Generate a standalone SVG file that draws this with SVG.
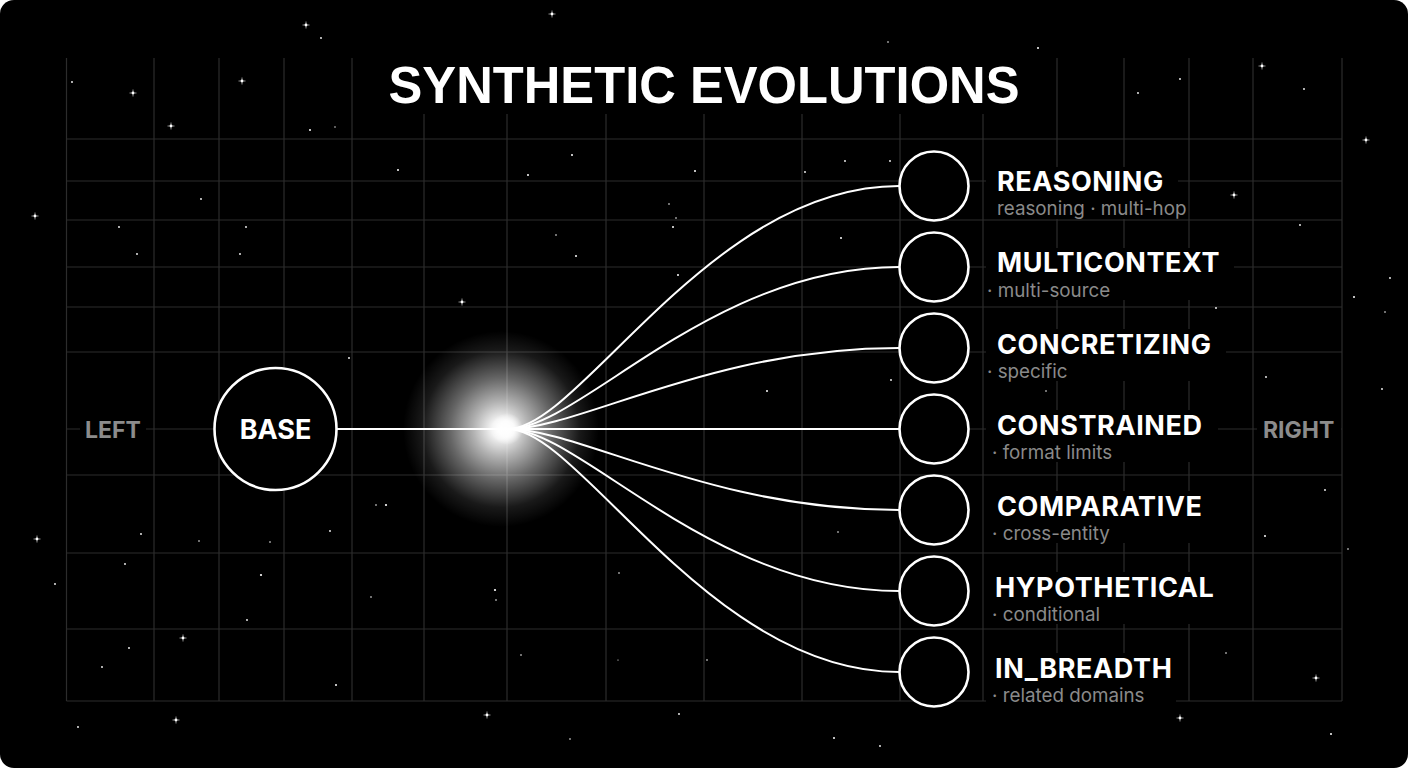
<svg xmlns="http://www.w3.org/2000/svg" xmlns:xlink="http://www.w3.org/1999/xlink" width="1408" height="768" viewBox="0 0 1408 768">
<style>
.grid line{stroke:#2c2c2c;stroke-width:1.2}
.conn{fill:none;stroke:#fff;stroke-width:2}
.node{fill:#000;stroke:#fff;stroke-width:2.6}
.ttl{font-family:Inter,"Liberation Sans",sans-serif;font-weight:700;font-size:27px;fill:#fff;letter-spacing:0.6px}
.sub{font-family:Inter,"Liberation Sans",sans-serif;font-weight:400;font-size:18.8px;fill:#8a8a8a}
.side{font-family:Inter,"Liberation Sans",sans-serif;font-weight:700;font-size:23px;fill:#8c8c8c}
.bg{fill:#000}
.dot{fill:#fff}
</style>
<defs>
<radialGradient id="glow" cx="0.5" cy="0.5" r="0.5">
<stop offset="0" stop-color="#fff" stop-opacity="1"/>
<stop offset="0.1" stop-color="#fff" stop-opacity="0.95"/>
<stop offset="0.28" stop-color="#fff" stop-opacity="0.7"/>
<stop offset="0.52" stop-color="#fff" stop-opacity="0.4"/>
<stop offset="0.8" stop-color="#fff" stop-opacity="0.1"/>
<stop offset="1" stop-color="#fff" stop-opacity="0"/>
</radialGradient>
<radialGradient id="core" cx="0.5" cy="0.5" r="0.5">
<stop offset="0" stop-color="#fff" stop-opacity="1"/>
<stop offset="0.5" stop-color="#fff" stop-opacity="0.8"/>
<stop offset="1" stop-color="#fff" stop-opacity="0"/>
</radialGradient>
<g id="sp">
<circle r="1.4" fill="#fff"/>
<path d="M-3.5 0H3.5M0 -3.5V3.5" stroke="#fff" stroke-width="0.7" opacity="0.8"/>
</g>
</defs>
<rect width="1408" height="768" fill="#fff"/>
<rect width="1408" height="768" rx="14" fill="#000"/>

<g id="grid" class="grid">
<line x1="66.5" y1="58" x2="66.5" y2="701"/>
<line x1="154" y1="58" x2="154" y2="701"/>
<line x1="219" y1="58" x2="219" y2="701"/>
<line x1="284" y1="58" x2="284" y2="701"/>
<line x1="352" y1="58" x2="352" y2="701"/>
<line x1="424" y1="114" x2="424" y2="701"/>
<line x1="507" y1="114" x2="507" y2="701"/>
<line x1="606" y1="114" x2="606" y2="701"/>
<line x1="704" y1="114" x2="704" y2="701"/>
<line x1="802" y1="114" x2="802" y2="701"/>
<line x1="900" y1="114" x2="900" y2="701"/>
<line x1="983" y1="114" x2="983" y2="701"/>
<line x1="1057" y1="58" x2="1057" y2="701"/>
<line x1="1124" y1="58" x2="1124" y2="701"/>
<line x1="1189" y1="58" x2="1189" y2="701"/>
<line x1="1253" y1="58" x2="1253" y2="701"/>
<line x1="1342" y1="58" x2="1342" y2="701"/>
<line x1="66.5" y1="139" x2="1342" y2="139"/>
<line x1="66.5" y1="181" x2="1342" y2="181"/>
<line x1="66.5" y1="220" x2="1342" y2="220"/>
<line x1="66.5" y1="267" x2="1342" y2="267"/>
<line x1="66.5" y1="307" x2="1342" y2="307"/>
<line x1="66.5" y1="352" x2="1342" y2="352"/>
<line x1="66.5" y1="429" x2="1342" y2="429"/>
<line x1="66.5" y1="475" x2="1342" y2="475"/>
<line x1="66.5" y1="553" x2="1342" y2="553"/>
<line x1="66.5" y1="629" x2="1342" y2="629"/>
<line x1="66.5" y1="701" x2="1342" y2="701"/>
</g>

<g id="stars">
<use xlink:href="#sp" x="306" y="25"/>
<use xlink:href="#sp" x="552" y="14"/>
<use xlink:href="#sp" x="133" y="93"/>
<use xlink:href="#sp" x="242" y="81"/>
<use xlink:href="#sp" x="171" y="126"/>
<use xlink:href="#sp" x="35" y="216"/>
<use xlink:href="#sp" x="37" y="539"/>
<use xlink:href="#sp" x="183" y="638"/>
<use xlink:href="#sp" x="176" y="720"/>
<use xlink:href="#sp" x="487" y="715"/>
<use xlink:href="#sp" x="1262" y="66"/>
<use xlink:href="#sp" x="1366" y="140"/>
<use xlink:href="#sp" x="1234" y="195"/>
<use xlink:href="#sp" x="1316" y="678"/>
<use xlink:href="#sp" x="1180" y="718"/>
<use xlink:href="#sp" x="462" y="302"/>
<g class="dot">
<circle cx="321" cy="38" r="0.9"/><circle cx="72" cy="82" r="0.9"/><circle cx="310" cy="130" r="1"/><circle cx="335" cy="127" r="0.7"/>
<circle cx="398" cy="170" r="1"/><circle cx="201" cy="199" r="0.9"/><circle cx="119" cy="227" r="0.9"/><circle cx="246" cy="227" r="0.9"/>
<circle cx="137" cy="254" r="0.9"/><circle cx="240" cy="254" r="0.9"/>
<circle cx="572" cy="155" r="1"/><circle cx="528" cy="175" r="1"/><circle cx="695" cy="171" r="1"/><circle cx="669" cy="204" r="0.8"/>
<circle cx="676" cy="218" r="0.8"/><circle cx="673" cy="227" r="1"/><circle cx="556" cy="235" r="0.8"/><circle cx="576" cy="256" r="1"/>
<circle cx="678" cy="275" r="1"/><circle cx="805" cy="172" r="0.9"/><circle cx="845" cy="161" r="0.9"/><circle cx="841" cy="238" r="1"/>
<circle cx="890" cy="161" r="0.9"/><circle cx="767" cy="391" r="1"/><circle cx="891" cy="380" r="0.9"/><circle cx="888" cy="42" r="0.8"/>
<circle cx="495" cy="590" r="1.1"/><circle cx="619" cy="573" r="0.8"/><circle cx="521" cy="655" r="0.8"/><circle cx="707" cy="660" r="0.8"/>
<circle cx="618" cy="660" r="0.6"/><circle cx="679" cy="714" r="0.9"/><circle cx="570" cy="739" r="0.8"/><circle cx="834" cy="738" r="1"/>
<circle cx="880" cy="746" r="0.9"/><circle cx="838" cy="532" r="0.8"/><circle cx="496" cy="600" r="0.8"/>
<circle cx="141" cy="534" r="0.9"/><circle cx="55" cy="584" r="0.9"/><circle cx="125" cy="564" r="0.9"/><circle cx="199" cy="541" r="0.8"/>
<circle cx="270" cy="542" r="0.8"/><circle cx="261" cy="575" r="1.1"/><circle cx="247" cy="620" r="0.9"/><circle cx="330" cy="531" r="0.9"/>
<circle cx="386" cy="505" r="1.1"/><circle cx="371" cy="597" r="0.8"/><circle cx="129" cy="648" r="0.9"/><circle cx="102" cy="667" r="0.9"/>
<circle cx="336" cy="685" r="1"/><circle cx="78" cy="727" r="0.9"/><circle cx="349" cy="358" r="0.9"/><circle cx="376" cy="505" r="0.8"/>
<circle cx="1038" cy="48" r="1"/><circle cx="1180" cy="79" r="0.9"/><circle cx="1138" cy="93" r="0.9"/><circle cx="1304" cy="89" r="0.9"/>
<circle cx="1300" cy="225" r="0.9"/><circle cx="1390" cy="278" r="0.9"/><circle cx="1354" cy="297" r="1"/><circle cx="1216" cy="308" r="0.9"/>
<circle cx="1385" cy="312" r="0.8"/><circle cx="1266" cy="377" r="0.9"/><circle cx="1382" cy="389" r="0.9"/><circle cx="1325" cy="490" r="0.9"/>
<circle cx="1265" cy="536" r="1"/><circle cx="1348" cy="549" r="0.8"/><circle cx="1226" cy="653" r="0.8"/><circle cx="1331" cy="734" r="1"/>
<circle cx="1046" cy="391" r="0.8"/><circle cx="1150" cy="380" r="0.9"/>
</g>
</g>

<g id="glow-burst">
<circle cx="501" cy="429" r="98" fill="url(#glow)"/>
</g>

<g id="connectors">
<path class="conn" d="M336 429 L899 429"/>
<path class="conn" d="M508 429 C580 429 710 186 899 186"/>
<path class="conn" d="M508 429 C580 429 710 267 899 267"/>
<path class="conn" d="M508 429 C580 429 710 348 899 348"/>
<path class="conn" d="M508 429 C580 429 710 510 899 510"/>
<path class="conn" d="M508 429 C580 429 710 591 899 591"/>
<path class="conn" d="M508 429 C580 429 710 672 899 672"/>
</g>
<circle cx="507" cy="429" r="16" fill="url(#core)"/>

<g id="title">
<text x="704" y="103" text-anchor="middle" font-family="'Liberation Sans',Arial,sans-serif" font-weight="700" font-size="52" fill="#fff" textLength="631" lengthAdjust="spacingAndGlyphs">SYNTHETIC EVOLUTIONS</text>
</g>

<g id="label-left">
<rect class="bg" x="80" y="416" width="66" height="26"/>
<text class="side" x="85" y="438">LEFT</text>
</g>
<g id="label-right">
<rect class="bg" x="1257" y="416" width="84" height="26"/>
<text class="side" x="1263" y="438">RIGHT</text>
</g>

<g id="node-base">
<circle class="node" cx="275.5" cy="429" r="61"/>
<text x="275.5" y="438.5" text-anchor="middle" font-family="Inter,'Liberation Sans',sans-serif" font-weight="700" font-size="27" fill="#fff">BASE</text>
</g>

<g id="node-reasoning">
<circle class="node" cx="934" cy="186" r="34.5"/>
<rect class="bg" x="986" y="167" width="192" height="52"/>
<text class="ttl" x="997" y="191">REASONING</text>
<text class="sub" x="997" y="214.5">reasoning · multi-hop</text>
</g>
<g id="node-multicontext">
<circle class="node" cx="934" cy="267" r="34.5"/>
<rect class="bg" x="986" y="248" width="248" height="52"/>
<text class="ttl" x="997" y="272">MULTICONTEXT</text>
<text class="sub" x="987" y="296.5">· multi-source</text>
</g>
<g id="node-concretizing">
<circle class="node" cx="934" cy="348" r="34.5"/>
<rect class="bg" x="986" y="329" width="240" height="52"/>
<text class="ttl" x="997" y="354">CONCRETIZING</text>
<text class="sub" x="987" y="377.5">· specific</text>
</g>
<g id="node-constrained">
<circle class="node" cx="934" cy="429" r="34.5"/>
<rect class="bg" x="986" y="410" width="232" height="52"/>
<text class="ttl" x="997" y="435">CONSTRAINED</text>
<text class="sub" x="992" y="458.5">· format limits</text>
</g>
<g id="node-comparative">
<circle class="node" cx="934" cy="510" r="34.5"/>
<rect class="bg" x="986" y="491" width="232" height="52"/>
<text class="ttl" x="997" y="516">COMPARATIVE</text>
<text class="sub" x="992" y="539.5">· cross-entity</text>
</g>
<g id="node-hypothetical">
<circle class="node" cx="934" cy="591" r="34.5"/>
<rect class="bg" x="986" y="572" width="244" height="52"/>
<text class="ttl" x="995" y="597">HYPOTHETICAL</text>
<text class="sub" x="992" y="620.5">· conditional</text>
</g>
<g id="node-in-breadth">
<circle class="node" cx="934" cy="672" r="34.5"/>
<rect class="bg" x="986" y="653" width="190" height="50"/>
<text class="ttl" x="995" y="678">IN_BREADTH</text>
<text class="sub" x="992" y="701.5">· related domains</text>
</g>
</svg>
